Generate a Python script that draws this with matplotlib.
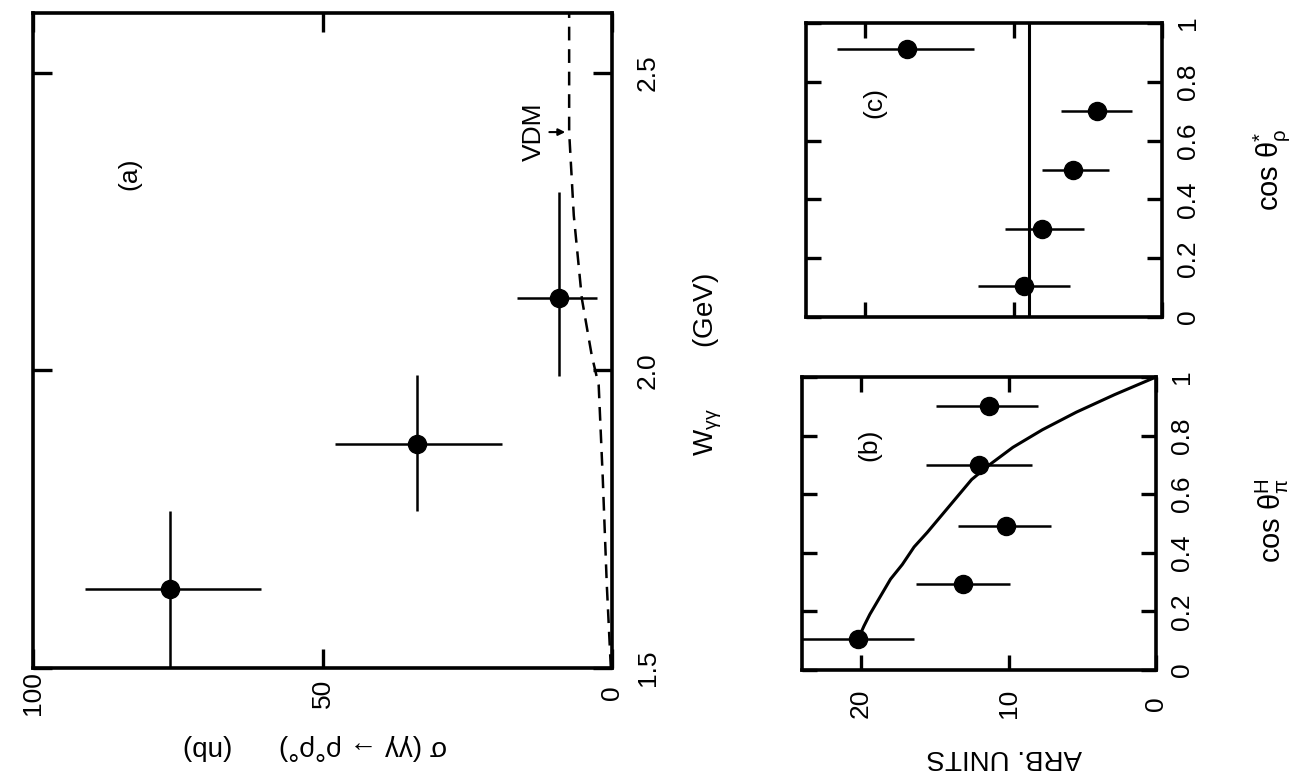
import matplotlib
matplotlib.use("Agg")
import matplotlib.pyplot as plt
from matplotlib import font_manager

# ---- panel (a): sigma(gg -> rho rho) vs W_gg ----
w_a = [1.633, 1.877, 2.121]
w_lo = [1.50, 1.763, 1.99]
w_hi = [1.763, 1.992, 2.30]
sig_a = [76.3, 33.7, 9.2]
sig_lo = [60.6, 19.0, 2.6]
sig_hi = [91.0, 47.8, 16.4]

# VDM prediction (dashed)
vdm_w = [1.50, 1.64, 1.82, 1.975, 2.025, 2.12, 2.26, 2.40, 2.60]
vdm_sig = [0.2, 0.9, 1.6, 2.3, 3.5, 5.2, 6.6, 7.4, 7.4]

# ---- panel (b): cos theta_pi^H ----
cb = [0.105, 0.293, 0.49, 0.70, 0.90]
arb_b = [20.2, 13.1, 10.2, 12.0, 11.3]
arb_b_lo = [16.4, 9.9, 7.1, 8.4, 8.0]
arb_b_hi = [24.0, 16.3, 13.4, 15.6, 14.9]
curve_b_cos = [0.105, 0.15, 0.19, 0.25, 0.31, 0.36, 0.42, 0.47, 0.53,
               0.59, 0.65, 0.70, 0.76, 0.82, 0.88, 0.94, 1.0]
curve_b_arb = [20.2, 19.8, 19.4, 18.7, 18.0, 17.2, 16.4, 15.5, 14.5,
               13.5, 12.5, 11.3, 9.7, 7.7, 5.4, 2.8, 0.0]

# ---- panel (c): cos theta_rho^* ----
cc = [0.105, 0.30, 0.50, 0.70, 0.91]
arb_c = [9.3, 8.1, 6.0, 4.4, 17.2]
arb_c_lo = [6.2, 5.25, 3.6, 2.0, 12.7]
arb_c_hi = [12.4, 10.6, 8.1, 6.8, 21.9]
flat_c = 9.0

sig_ticks = [0, 50, 100]
w_ticks = [1.5, 2.0, 2.5]
w_labels = ["1.5", "2.0", "2.5"]
arb_ticks = [0, 10, 20]
cos_ticks = [0, 0.2, 0.4, 0.6, 0.8, 1.0]
cos_labels = ["0", "0.2", "0.4", "0.6", "0.8", "1"]

avail = {f.name for f in font_manager.fontManager.ttflist}
fam = "Liberation Sans Narrow" if "Liberation Sans Narrow" in avail else "Liberation Sans"
plt.rcParams["font.family"] = [fam, "DejaVu Sans"]
plt.rcParams["mathtext.fontset"] = "custom"
plt.rcParams["mathtext.rm"] = fam
plt.rcParams["mathtext.it"] = fam
plt.rcParams["mathtext.bf"] = fam

W, H = 1296, 777
fig = plt.figure(figsize=(W / 100, H / 100), dpi=100)


def box(l, t, r, b):
    return [l / W, 1 - b / H, (r - l) / W, (b - t) / H]


def fx(px):
    return px / W


def fy(py):
    return 1 - py / H


FS = 19
LW = 1.8


def style(ax, tick_len):
    for s in ax.spines.values():
        s.set_linewidth(2.6)
    ax.tick_params(direction="in", length=tick_len, width=2.4,
                   top=True, right=True, labelleft=False, labelright=True,
                   labelsize=FS)


# panel (a)
ax = fig.add_axes(box(33, 13, 612, 668))
ax.errorbar(sig_a, w_a,
            xerr=[[s - lo for s, lo in zip(sig_a, sig_lo)], [hi - s for s, hi in zip(sig_a, sig_hi)]],
            yerr=[[w - lo for w, lo in zip(w_a, w_lo)], [hi - w for w, hi in zip(w_a, w_hi)]],
            fmt="o", color="black", ms=13, elinewidth=LW, capsize=0)
ax.plot(vdm_sig, vdm_w, color="black", lw=LW, linestyle=(0, (5.5, 3.5)))
ax.set_xlim(100, 0)
ax.set_ylim(1.5, 2.6)
style(ax, 14)
ax.set_xticks(sig_ticks)
ax.set_xticklabels([str(t) for t in sig_ticks], rotation=90, va="center")
ax.set_yticks(w_ticks)
ax.set_yticklabels(w_labels, rotation=90, ha="center", va="center")
ax.tick_params(axis="x", pad=18)
ax.tick_params(axis="y", pad=26)
ax.text(83.4, 2.33, "(a)", rotation=90, fontsize=FS, ha="center", va="center")
ax.text(13.5, 2.40, "VDM", rotation=90, fontsize=FS, ha="center", va="center")
ax.annotate("", xy=(7.6, 2.40), xytext=(11.3, 2.40),
            arrowprops=dict(arrowstyle="-|>", color="black", lw=1.5, mutation_scale=10))
fig.text(fx(708), fy(365), "W$_{\\mathrm{γγ}}$        (GeV)", rotation=90,
         fontsize=FS + 1, ha="center", va="center")
fig.text(fx(315), fy(747), "σ (γγ → ρ°ρ°)      (nb)", rotation=180,
         fontsize=FS + 1, ha="center", va="center")

# panel (c)
axc = fig.add_axes(box(806, 23, 1162, 317))
axc.errorbar(arb_c, cc,
             xerr=[[a - lo for a, lo in zip(arb_c, arb_c_lo)], [hi - a for a, hi in zip(arb_c, arb_c_hi)]],
             fmt="o", color="black", ms=13, elinewidth=LW, capsize=0)
axc.axvline(flat_c, color="black", lw=LW + 0.4)
axc.set_xlim(24, 0)
axc.set_ylim(0, 1)
style(axc, 11)
axc.set_xticks(arb_ticks)
axc.set_xticklabels([])
axc.set_yticks(cos_ticks)
axc.set_yticklabels(cos_labels, rotation=90, ha="center", va="center")
axc.tick_params(axis="y", pad=19)
axc.text(19.4, 0.73, "(c)", rotation=90, fontsize=FS, ha="center", va="center")
fig.text(fx(1272), fy(170), "cos θ$^{*}_{\\mathrm{ρ}}$", rotation=90,
         fontsize=FS + 2, ha="center", va="center")

# panel (b)
axb = fig.add_axes(box(802, 377, 1156, 670))
axb.errorbar(arb_b, cb,
             xerr=[[a - lo for a, lo in zip(arb_b, arb_b_lo)], [hi - a for a, hi in zip(arb_b, arb_b_hi)]],
             fmt="o", color="black", ms=13, elinewidth=LW, capsize=0)
axb.plot(curve_b_arb, curve_b_cos, color="black", lw=LW + 0.4)
axb.set_xlim(24, 0)
axb.set_ylim(0, 1)
style(axb, 11)
axb.set_xticks(arb_ticks)
axb.set_xticklabels([str(t) for t in arb_ticks], rotation=90, va="center")
axb.set_yticks(cos_ticks)
axb.set_yticklabels(cos_labels, rotation=90, ha="center", va="center")
axb.tick_params(axis="x", pad=24)
axb.tick_params(axis="y", pad=19)
axb.text(19.4, 0.77, "(b)", rotation=90, fontsize=FS, ha="center", va="center")
fig.text(fx(1272), fy(520), "cos θ$^{\\mathrm{H}}_{\\mathrm{π}}$", rotation=90,
         fontsize=FS + 2, ha="center", va="center")
fig.text(fx(1004), fy(757), "ARB. UNITS", rotation=180,
         fontsize=FS + 1, ha="center", va="center")

fig.savefig("out.png", dpi=100)
